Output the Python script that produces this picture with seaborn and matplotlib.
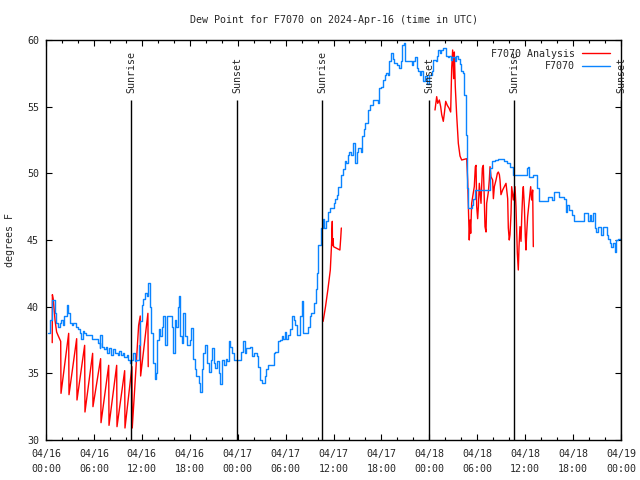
import matplotlib
matplotlib.use("Agg")
from matplotlib import pyplot as plt
from matplotlib.ticker import MultipleLocator
import seaborn as sns
import pandas as pd

# time axis: hours since 2024-04-16 00:00 UTC
obs_hours = [0.3, 0.5, 0.8, 1.1, 1.3, 1.5, 1.7, 1.9, 2.1, 2.3, 2.6, 2.8, 3.0, 3.2, 3.4, 3.6, 3.8, 4.0,
             4.2, 4.4, 4.6, 4.8, 5.0, 5.4, 5.8, 6.3, 6.5, 6.7, 6.8, 7.0, 7.3, 7.5, 7.7, 7.9, 8.2, 8.4,
             8.6, 8.8, 9.0, 9.2, 9.4, 9.6, 9.8, 10.1, 10.3, 10.5, 10.7, 10.9, 11.1, 11.3, 11.6, 11.8,
             12.0, 12.2, 12.4, 12.6, 12.8, 13.0, 13.2, 13.4, 13.6, 13.8, 13.9, 14.1, 14.3, 14.5, 14.7,
             14.9, 15.2, 15.6, 15.8, 15.9, 16.1, 16.3, 16.5, 16.6, 16.8, 17.0, 17.2, 17.4, 17.6, 18.0,
             18.2, 18.4, 18.6, 18.8, 19.1, 19.3, 19.5, 19.7, 19.9, 20.1, 20.4, 20.6, 20.8, 21.0, 21.2,
             21.4, 21.6, 21.8, 22.0, 22.3, 22.5, 22.7, 22.9, 23.1, 23.3, 23.5, 24.2, 24.4, 24.7, 24.9,
             25.1, 25.5, 25.8, 26.1, 26.4, 26.6, 26.8, 27.1, 27.4, 27.6, 27.8, 28.5, 28.7, 29.0, 29.3,
             29.5, 29.7, 29.9, 30.1, 30.3, 30.5, 30.8, 31.0, 31.2, 31.4, 31.8, 32.0, 32.2, 32.6, 32.8,
             33.0, 33.2, 33.5, 33.8, 33.9, 34.0, 34.1, 34.4, 34.65, 34.8, 35.0, 35.35, 35.6, 36.0,
             36.2, 36.4, 36.6, 37.0, 37.2, 37.4, 37.6, 37.8, 38.0, 38.2, 38.5, 38.7, 38.9, 39.1, 39.4,
             39.6, 39.8, 40.0, 40.3, 40.6, 41.0, 41.6, 41.7, 41.9, 42.2, 42.4, 42.6, 42.8, 43.0, 43.2,
             43.4, 43.6, 43.9, 44.2, 44.5, 44.6, 44.8, 45.0, 45.8, 46.0, 46.2, 46.4, 46.6, 46.8, 47.0,
             47.2, 47.5, 47.7, 47.9, 48.3, 48.5, 48.8, 49.0, 49.1, 49.3, 49.5, 49.7, 50.1, 50.3, 50.5,
             50.7, 50.9, 51.2, 51.4, 51.6, 51.8, 52.0, 52.2, 52.4, 52.6, 52.7, 52.9, 53.3, 53.5, 53.7,
             55.4, 55.6, 55.8, 56.2, 56.6, 57.3, 57.7, 58.1, 58.5, 60.2, 60.3, 60.5, 61.0, 61.5, 61.7,
             62.8, 63.3, 63.6, 64.2, 64.9, 65.1, 65.3, 65.5, 65.9, 66.1, 67.4, 67.9, 68.1, 68.3, 68.5,
             68.7, 68.9, 69.1, 69.5, 69.7, 70.2, 70.4, 70.6, 70.8, 71.0, 71.2, 71.4, 71.6, 72.0]
obs_dewpt = [38.0, 39.0, 40.5, 39.5, 38.8, 38.5, 38.8, 39.0, 38.6, 39.3, 40.1, 39.5, 38.8, 38.6, 38.8, 38.8, 38.5, 38.3,
             38.0, 37.6, 38.2, 38.0, 37.9, 37.9, 37.6, 37.6, 37.3, 36.9, 37.9, 37.0, 36.8, 37.0, 36.5, 36.9, 36.4, 36.8,
             36.5, 36.5, 36.4, 36.7, 36.4, 36.5, 36.2, 36.4, 36.0, 35.8, 36.0, 36.5, 35.9, 36.0, 37.1, 38.9,
             40.1, 40.6, 41.0, 40.8, 41.8, 40.0, 38.0, 35.8, 34.6, 35.0, 37.5, 38.3, 37.8, 38.5, 39.3,
             37.1, 39.3, 39.3, 38.5, 36.5, 39.0, 38.5, 40.0, 40.8, 37.8, 37.3, 39.5, 37.8, 37.1, 37.5,
             38.4, 36.1, 35.3, 34.8, 34.3, 33.6, 35.3, 36.5, 37.1, 35.8, 35.1, 36.0, 36.9, 35.8, 35.4,
             35.9, 35.0, 34.2, 36.0, 35.6, 36.1, 35.9, 37.4, 37.0, 36.5, 36.0, 36.0, 36.6, 37.4, 36.5,
             36.9, 37.0, 36.3, 36.5, 36.3, 35.5, 34.5, 34.3, 34.8, 35.3, 35.6, 36.5, 36.6, 37.4, 37.5,
             37.8, 37.6, 38.1, 37.6, 37.9, 38.3, 39.3, 39.0, 38.6, 37.9, 39.3, 40.4, 38.0, 38.0, 38.5,
             39.3, 39.5, 40.3, 41.3, 42.5, 43.1, 44.6, 45.9, 46.6, 45.9, 46.4, 47.1, 47.4, 47.75,
             48.1, 48.4, 49.0, 49.9, 50.3, 50.9, 50.8, 51.4, 51.6, 51.4, 52.25, 50.8, 51.6, 51.9, 51.6,
             52.8, 53.3, 53.8, 54.75, 55.1, 55.5, 55.25, 56.4, 56.5, 57.0, 57.4, 57.5, 57.4, 58.4, 59.0,
             58.6, 58.3, 58.1, 57.9, 58.4, 59.6, 59.75, 58.4, 58.1, 58.4, 58.7, 57.9, 57.7, 57.4, 57.7,
             56.9, 57.3, 56.7, 57.4, 57.7, 58.5, 58.4, 58.8, 59.25, 59.0, 59.25, 59.4, 58.8, 58.7, 58.8,
             58.5, 58.7, 58.4, 58.8, 58.6, 58.2, 57.7, 57.5, 55.9, 52.9, 48.9, 47.4, 47.6, 48.1, 48.75,
             48.75, 50.4, 50.9, 51.0, 51.1, 50.9, 50.8, 50.5, 49.9, 50.4, 50.5, 49.75, 49.9, 48.9, 47.9,
             48.25, 48.0, 48.6, 48.25, 48.1, 47.1, 47.6, 47.25, 46.9, 46.4, 47.0, 46.4, 46.9, 46.4, 47.0,
             45.9, 45.6, 46.0, 45.4, 46.0, 45.4, 45.1, 44.75, 44.5, 44.75, 44.1, 45.0, 45.1, 45.0]

# analysis series, three pieces with gaps between them
ana_hours_1 = [0.78, 0.80, 0.92, 1.13, 1.33, 1.54, 1.84, 1.88, 2.84, 2.88, 3.84, 3.88, 4.84, 4.88,
               5.84, 5.88, 6.84, 6.89, 7.85, 7.89, 8.85, 8.89, 9.85, 9.89, 10.76, 10.8, 11.6, 11.8,
               11.85, 12.76, 12.8]
ana_dewpt_1 = [37.3, 40.9, 40.5, 39.0, 38.1, 37.8, 37.4, 33.5, 38.0, 33.4, 37.6, 33.0, 37.1, 32.1,
               36.5, 32.5, 36.1, 31.3, 35.6, 31.1, 35.6, 31.0, 35.2, 30.9, 35.5, 30.9, 38.6, 39.3,
               34.8, 39.5, 35.5]
ana_hours_2 = [34.7, 35.0, 35.3, 35.6, 35.75, 35.85, 35.87, 35.95, 36.0, 36.8, 36.9, 36.98]
ana_dewpt_2 = [38.9, 40.0, 41.3, 42.75, 44.6, 46.4, 44.6, 45.1, 44.5, 44.25, 45.1, 45.9]
ana_hours_3 = [48.71, 48.92, 49.05, 49.25, 49.42, 49.55, 49.75, 49.88, 50.05, 50.25, 50.46, 50.67,
               50.8, 50.92, 51.05, 51.13, 51.25, 51.42, 51.63, 51.84, 52.05, 52.68, 52.8, 53.0, 53.1,
               53.18, 53.3, 53.43, 53.63, 53.76, 53.85, 53.93, 54.05, 54.14, 54.26, 54.47, 54.64,
               54.76, 54.85, 54.97, 55.1, 55.18, 55.39, 55.51, 55.6, 55.72, 55.93, 56.02, 56.14,
               56.35, 56.52, 56.64, 56.77, 56.85, 56.97, 57.18, 57.39, 57.6, 57.81, 57.89, 58.01,
               58.1, 58.23, 58.31, 58.52, 58.73, 58.85, 59.02, 59.14, 59.23, 59.35, 59.48, 59.57,
               59.69, 59.77, 59.9, 60.02, 60.1, 60.19, 60.31, 60.52, 60.69, 60.81, 60.94, 61.02]
ana_dewpt_3 = [54.75, 55.75, 55.25, 55.5, 55.0, 54.4, 53.9, 54.5, 55.4, 55.1, 54.9, 54.6,
               57.9, 59.25, 57.1, 59.1, 56.5, 54.4, 52.25, 51.3, 51.0, 51.1, 49.5, 45.0, 46.5,
               45.5, 47.75, 48.25, 49.0, 50.5, 50.6, 47.5, 46.6, 47.5, 49.25, 47.75, 50.4,
               50.6, 48.75, 46.0, 45.6, 47.75, 48.6, 49.5, 50.5, 49.75, 49.5, 48.1, 49.0,
               49.5, 50.0, 50.1, 49.9, 49.5, 48.4, 48.75, 49.0, 49.25, 48.1, 45.9, 45.0,
               45.4, 47.0, 49.0, 48.0, 49.0, 47.5, 44.0, 42.75, 44.5, 46.0, 44.9, 46.75,
               48.5, 49.0, 47.5, 45.25, 44.25, 45.5, 46.75, 48.0, 49.0, 48.0, 48.75, 44.5]

event_hours = [10.64, 23.92, 34.56, 47.96, 58.6, 72.0]
event_labels = ["Sunrise", "Sunset", "Sunrise", "Sunset", "Sunrise", "Sunset"]

tick_hours = [0, 6, 12, 18, 24, 30, 36, 42, 48, 54, 60, 66, 72]
tick_labels = ["04/16\n00:00", "04/16\n06:00", "04/16\n12:00", "04/16\n18:00",
               "04/17\n00:00", "04/17\n06:00", "04/17\n12:00", "04/17\n18:00",
               "04/18\n00:00", "04/18\n06:00", "04/18\n12:00", "04/18\n18:00",
               "04/19\n00:00"]

sns.set_style("ticks")
plt.rcParams["font.family"] = ["DejaVu Sans Mono"]
fs = 7.2

fig = plt.figure(figsize=(6.4, 4.8), dpi=100)
ax = fig.add_axes([46 / 640, 40 / 480, 575 / 640, 400 / 480])

red = "#ff0000"
blue = "#0a84ff"
segments = [(ana_hours_1, ana_dewpt_1), (ana_hours_2, ana_dewpt_2), (ana_hours_3, ana_dewpt_3)]
for i, (hh, vv) in enumerate(segments):
    seg = pd.DataFrame({"hour": hh, "dewpt": vv})
    sns.lineplot(data=seg, x="hour", y="dewpt", ax=ax, color=red, lw=1.0, estimator=None,
                 sort=False, label="F7070 Analysis" if i == 0 else None, legend=False)

obs = pd.DataFrame({"hour": obs_hours, "dewpt": obs_dewpt})
sns.lineplot(data=obs, x="hour", y="dewpt", ax=ax, color=blue, lw=1.0, estimator=None,
             sort=False, drawstyle="steps-post", label="F7070", legend=False)

for h, lab in zip(event_hours, event_labels):
    ax.vlines(h, 30, 55.5, color="black", lw=1.0, zorder=5)
    ax.text(h, 56.0, lab, rotation=90, ha="center", va="bottom", fontsize=fs, zorder=6)

ax.set_xlim(0, 72)
ax.set_ylim(30, 60)
ax.set_xticks(tick_hours)
ax.set_xticklabels(tick_labels, fontsize=fs)
for lbl in ax.get_xticklabels():
    lbl.set_linespacing(1.6)
ax.xaxis.set_minor_locator(MultipleLocator(2))
ax.yaxis.set_major_locator(MultipleLocator(5))
ax.tick_params(axis="y", labelsize=fs)
ax.tick_params(which="both", direction="in", top=True, right=True, width=0.8, color="black")
ax.tick_params(which="major", length=4, pad=5)
ax.tick_params(axis="x", which="major", pad=6.5)
ax.tick_params(which="minor", length=2.5)
for sp in ax.spines.values():
    sp.set_color("black")
    sp.set_linewidth(1.0)

ax.set_xlabel("")
ax.set_ylabel("degrees F", fontsize=fs, labelpad=9)
ax.set_title("Dew Point for F7070 on 2024-Apr-16 (time in UTC)", fontsize=fs, pad=12)

ax.legend(loc="upper right", bbox_to_anchor=(0.986, 0.985), frameon=False, markerfirst=False,
          fontsize=fs, handlelength=2.8, handletextpad=0.7, labelspacing=0.25,
          borderaxespad=0, borderpad=0.3)

plt.savefig("out.png", dpi=100)
